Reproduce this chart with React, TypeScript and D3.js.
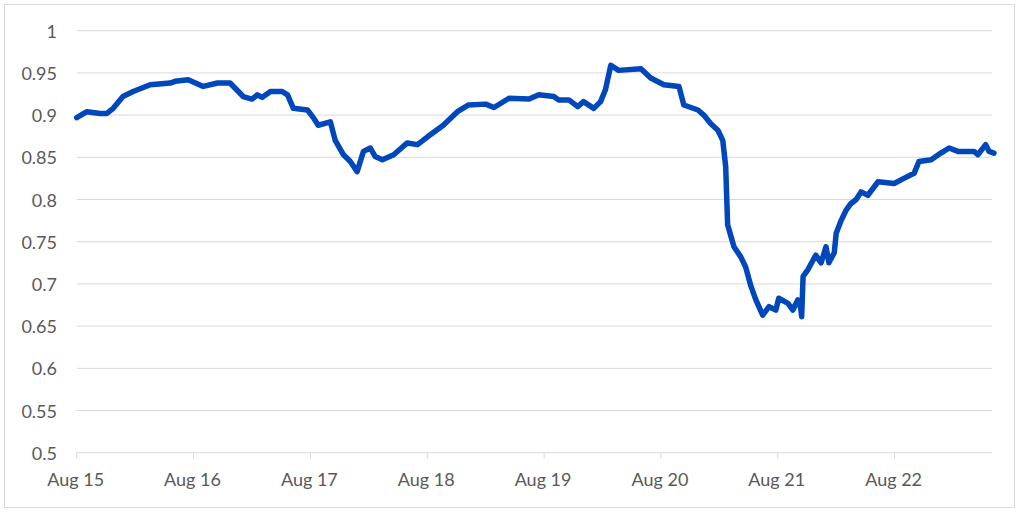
import React from "react";
import * as d3 from "d3";

// Hours since Aug 15 00:00 and the plotted ratio
const hours: number[] = [
  0, 2.1, 4.8, 6.2, 7.5, 9.5, 11.6, 15.1, 19.2, 20.2, 22.9, 26.0, 28.9, 31.5, 34.2, 36.0, 37.1, 38.1, 39.8,
  42.2, 43.3, 44.5, 47.4, 48.6, 49.6, 52.1, 53.1, 54.8, 56.2, 57.6, 58.9, 60.3, 61.3, 62.8, 65.1, 67.9,
  70.0, 72.0, 75.3, 78.2, 80.5, 84.0, 85.7, 88.8, 92.9, 94.9, 98.0, 99.0, 101.1, 102.9, 104.1, 106.2, 107.6,
  108.6, 109.7, 111.3, 115.9, 117.9, 120.6, 123.7, 124.7, 127.6, 128.8, 130.2, 131.7, 132.7, 133.3, 133.7,
  134.4, 135.0, 136.4, 137.4, 138.5, 139.5, 140.9, 142.2, 143.6, 144.2, 146.1, 147.1, 148.1, 148.7, 148.9,
  149.2, 150.2, 151.8, 152.9, 153.9, 154.5, 155.6, 156.0, 157.0, 158.0, 159.0, 160.1, 161.1, 162.5, 164.6,
  167.9, 169.9, 172.0, 173.0, 175.5, 177.5, 179.2, 181.0, 184.3, 185.1, 186.7, 187.4, 188.4,
];
const values: number[] = [
  0.897, 0.904, 0.902, 0.902, 0.908, 0.922, 0.928, 0.936, 0.938, 0.94, 0.942, 0.934, 0.938, 0.938, 0.922,
  0.919, 0.924, 0.921, 0.928, 0.928, 0.924, 0.908, 0.906, 0.897, 0.888, 0.892, 0.87, 0.853, 0.845, 0.833,
  0.857, 0.861, 0.851, 0.847, 0.853, 0.867, 0.865, 0.874, 0.888, 0.904, 0.912, 0.913, 0.909, 0.92, 0.919,
  0.924, 0.922, 0.918, 0.918, 0.91, 0.916, 0.908, 0.916, 0.93, 0.959, 0.953, 0.955, 0.944, 0.936, 0.934,
  0.912, 0.906, 0.9, 0.89, 0.882, 0.87, 0.839, 0.77, 0.756, 0.744, 0.732, 0.72, 0.697, 0.681, 0.663, 0.673,
  0.669, 0.683, 0.677, 0.669, 0.681, 0.672, 0.661, 0.709, 0.717, 0.734, 0.725, 0.744, 0.725, 0.737, 0.76,
  0.775, 0.787, 0.795, 0.8, 0.809, 0.805, 0.821, 0.819, 0.825, 0.831, 0.845, 0.847, 0.855, 0.861, 0.857,
  0.857, 0.853, 0.865, 0.857, 0.855,
];
const dayLabels: string[] = ["Aug 15", "Aug 16", "Aug 17", "Aug 18", "Aug 19", "Aug 20", "Aug 21", "Aug 22"];
const yTicks: number[] = [0.5, 0.55, 0.6, 0.65, 0.7, 0.75, 0.8, 0.85, 0.9, 0.95, 1];

const W = 1024;
const H = 513;
const left = 76.7;
const right = 992;
const top = 30.7;
const bottom = 452.7;
const font = "Lato, 'Open Sans', sans-serif";
const textColor = "#595959";
const gridColor = "#d9d9d9";

export default function App() {
  const x = d3.scaleLinear().domain([0, 188]).range([left, right]);
  const y = d3.scaleLinear().domain([0.5, 1]).range([bottom, top]);
  const pts: [number, number][] = hours.map((h, i) => [h, values[i]]);
  const line = d3
    .line<[number, number]>()
    .x((d) => x(d[0]))
    .y((d) => y(d[1]))
    .curve(d3.curveLinear);

  return (
    <svg
      width={W}
      height={H}
      style={{ position: "absolute", left: 0, top: 0, background: "#fff" }}
    >
      <rect x={4.5} y={4.5} width={1010} height={503} fill="#fff" stroke={gridColor} strokeWidth={1} />
      {yTicks.map((t) => (
        <g key={t}>
          <line x1={left} x2={right} y1={y(t)} y2={y(t)} stroke={gridColor} strokeWidth={1} />
          <text
            x={57}
            y={y(t)}
            textAnchor="end"
            dominantBaseline="central"
            fontFamily={font}
            fontSize={18}
            fill={textColor}
          >
            {String(t)}
          </text>
        </g>
      ))}
      {dayLabels.map((lab, i) => {
        const xx = x(i * 24);
        return (
          <g key={lab}>
            <line x1={xx} x2={xx} y1={bottom} y2={bottom + 6} stroke={gridColor} strokeWidth={1} />
            <text
              x={xx - 1}
              y={479}
              textAnchor="middle"
              dominantBaseline="central"
              fontFamily={font}
              fontSize={18}
              fill={textColor}
            >
              {lab}
            </text>
          </g>
        );
      })}
      <path
        d={line(pts) || ""}
        fill="none"
        stroke="#0047bb"
        strokeWidth={5.5}
        strokeLinejoin="round"
        strokeLinecap="round"
      />
    </svg>
  );
}
